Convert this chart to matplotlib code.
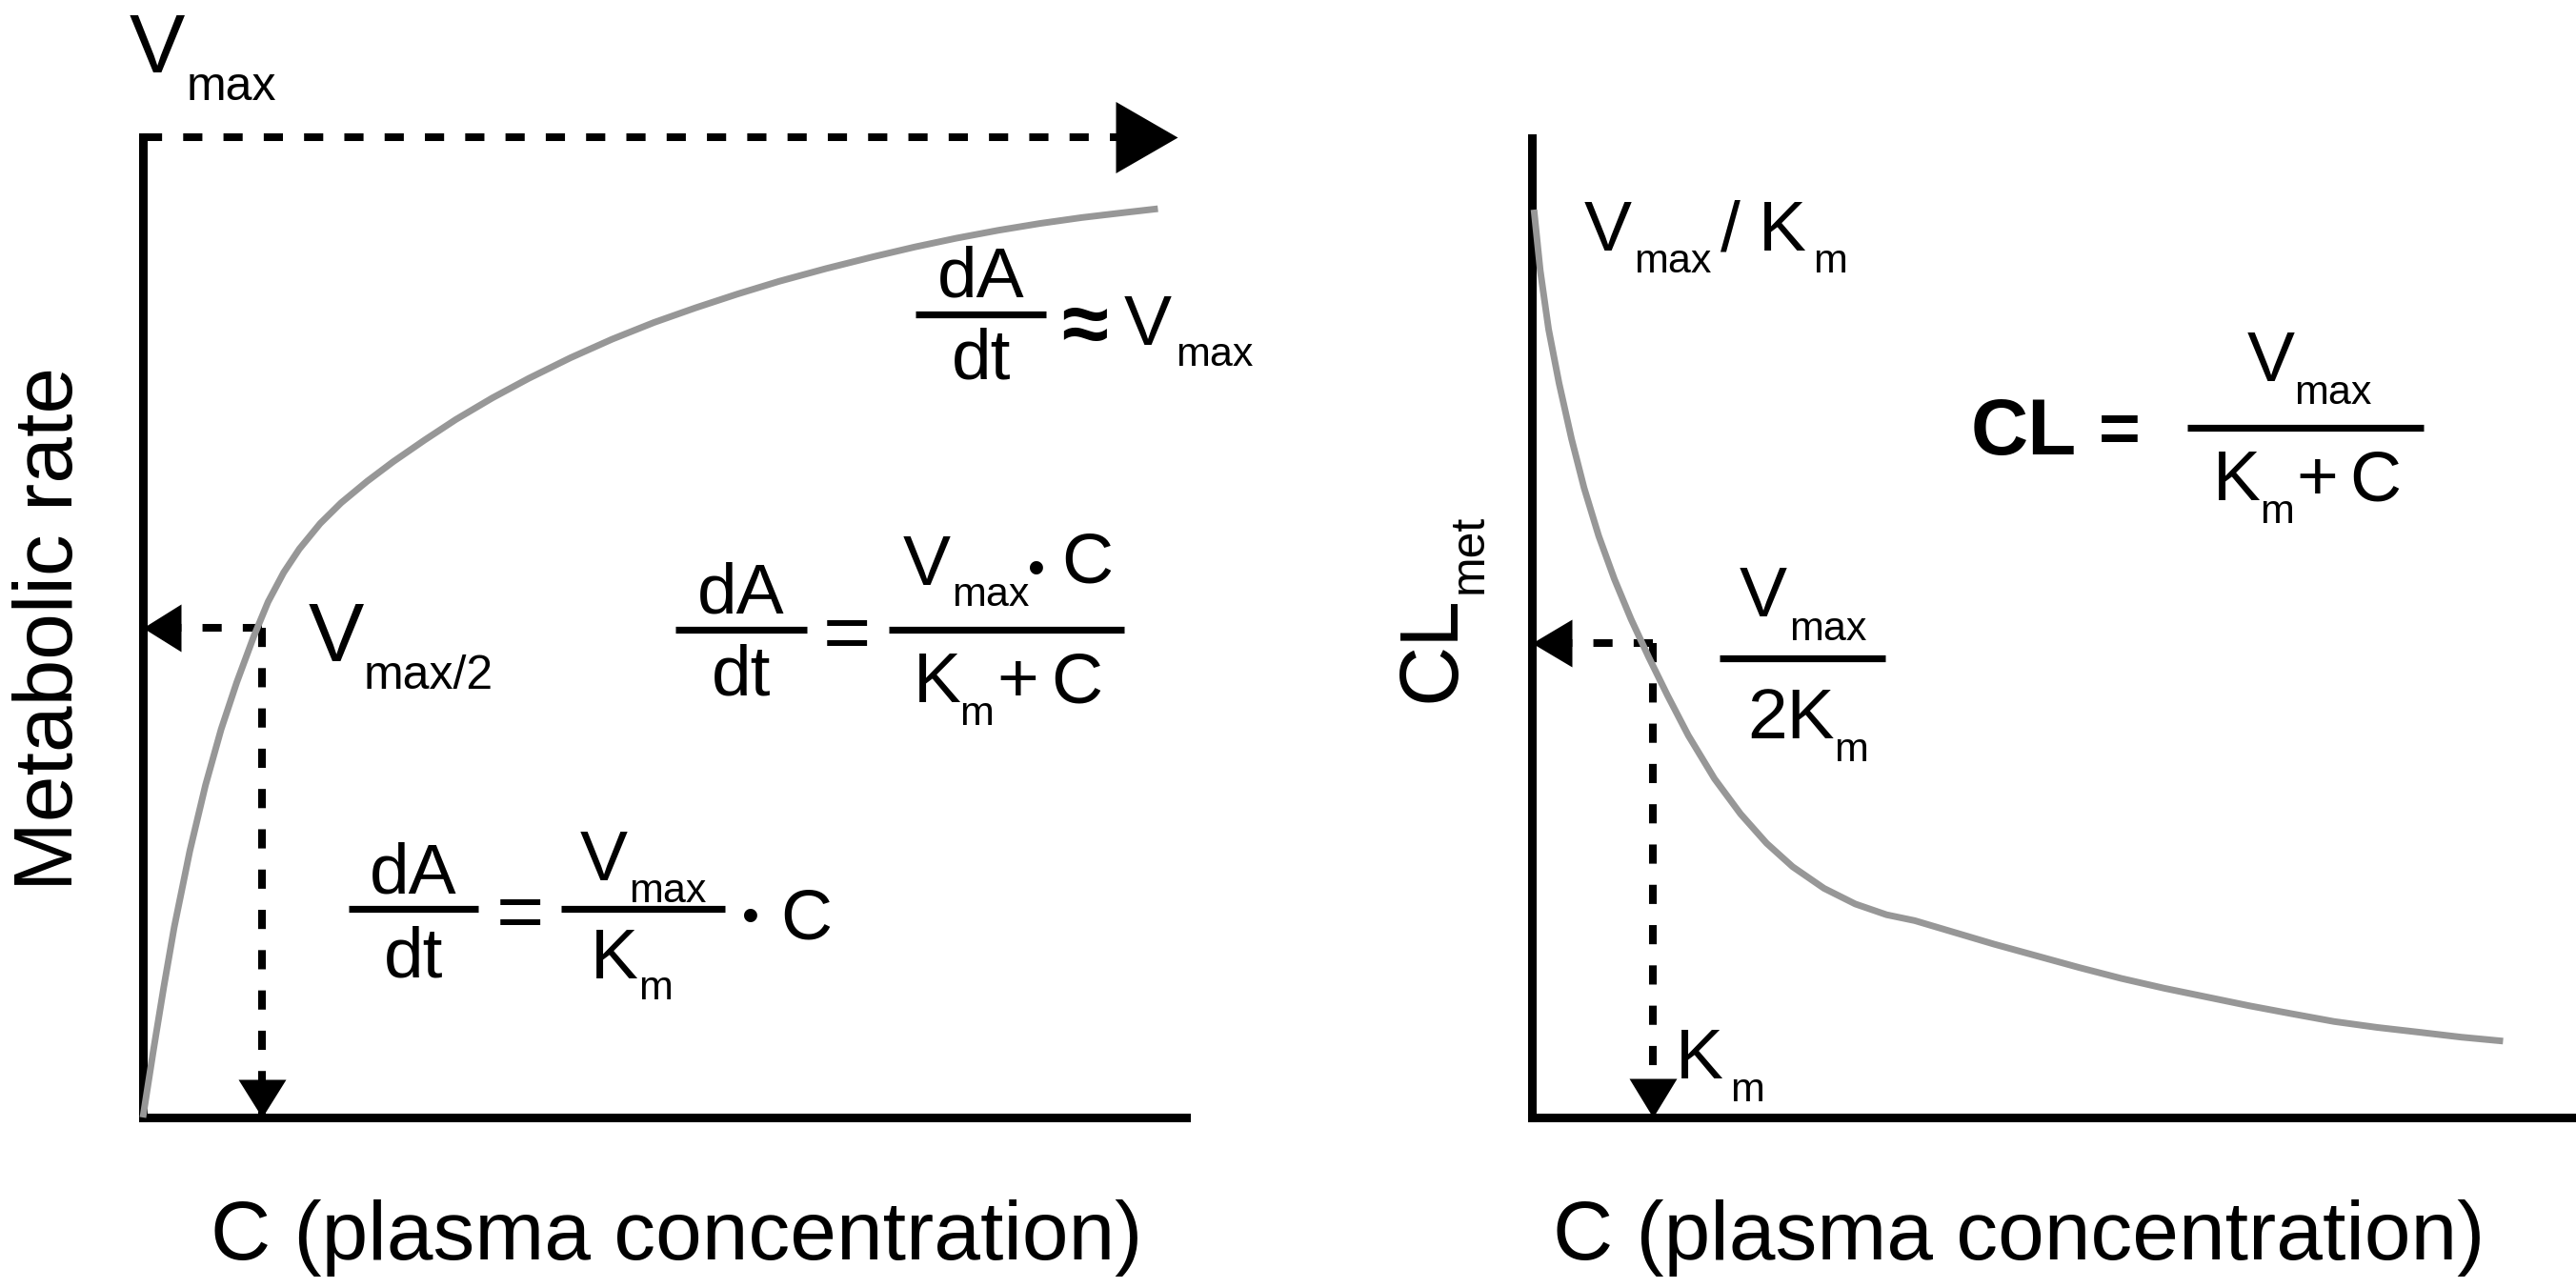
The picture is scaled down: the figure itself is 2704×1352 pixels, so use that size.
import matplotlib
matplotlib.use("Agg")
import matplotlib.pyplot as plt
from matplotlib.lines import Line2D

# ---------------- data ----------------
# Left panel: metabolic rate (% of Vmax) versus plasma concentration (% of axis length)
conc_left = [0, 1, 2, 3, 4.5, 6, 7.5, 9, 10.6, 12, 13.5, 15, 17, 19, 21.5, 24, 27, 30, 33.5,
             37, 41, 45, 49, 53, 57, 61, 65.5, 70, 74, 78, 82, 86, 90, 94, 97.3]
rate_left = [0, 6.8, 13.3, 19.4, 27.2, 33.9, 39.6, 44.4, 49.0, 52.6, 55.6, 58.0, 60.6, 62.7,
             64.9, 66.9, 69.1, 71.2, 73.4, 75.4, 77.5, 79.4, 81.1, 82.6, 84.0, 85.3, 86.6,
             87.8, 88.8, 89.7, 90.5, 91.2, 91.8, 92.3, 92.7]
vmax_left = 100          # Vmax level (top of the axis)
half_vmax_left = 50      # Vmax/2
km_left = 11.4           # Km on the concentration axis
vmax_arrow_end = 99.2    # where the Vmax arrow ends

# Right panel: metabolic clearance versus plasma concentration
conc_right = [0.2, 0.8, 1.6, 2.6, 3.8, 5.0, 6.4, 7.9, 9.5, 11.2, 13.0, 15.0, 17.5, 20.0, 22.5,
              25.0, 28.0, 31.0, 34.0, 36.7, 40.5, 44.3, 48.4, 52.5, 56.5, 60.6, 64.7, 68.8,
              72.8, 76.9, 81.0, 85.1, 89.1, 93.1]
cl_right = [92.7, 86.5, 80.5, 75.0, 69.3, 64.3, 59.4, 55.0, 50.9, 47.0, 43.1, 39.0, 34.6, 31.0,
            28.0, 25.6, 23.4, 21.8, 20.7, 20.1, 18.9, 17.7, 16.5, 15.3, 14.2, 13.2, 12.3,
            11.4, 10.6, 9.8, 9.2, 8.7, 8.2, 7.8]
km_right = 11.6
cl_at_km = 48.4          # Vmax / 2Km level

xlabel_text = "C (plasma concentration)"
ylabel_left = "Metabolic rate"

# ---------------- figure ----------------
W, H, DPI = 2704, 1352, 100
plt.rcParams['font.family'] = ['Liberation Sans', 'DejaVu Sans']
fig = plt.figure(figsize=(W / DPI, H / DPI), dpi=DPI)
fig.patch.set_facecolor('white')

PX2PT = 72.0 / DPI
BIG, SUBB, EQ, SUB = 63, 36, 54, 31
GREY = '#979797'


def fx(px):
    return px / W


def fy(py):
    return 1 - py / H


def make_ax(x0, x1, ytop, ybot):
    ax = fig.add_axes([fx(x0), fy(ybot), (x1 - x0) / W, (ybot - ytop) / H])
    ax.set_xlim(0, 100)
    ax.set_ylim(0, 100)
    for s in ('top', 'right'):
        ax.spines[s].set_visible(False)
    for s in ('left', 'bottom'):
        ax.spines[s].set_linewidth(6.5)
        ax.spines[s].set_color('black')
    ax.set_xticks([])
    ax.set_yticks([])
    ax.patch.set_alpha(0)
    return ax


DASH = dict(color='black', lw=5.8, ls=(0, (2.5, 2.75)), clip_on=False,
            dash_capstyle='butt', zorder=2)


def head(ax, x, y, direction, length_px, width_px):
    hw = width_px / length_px / 2.0
    shapes = {'right': [(0, 0), (-1, hw), (-1, -hw)],
              'left': [(0, 0), (1, hw), (1, -hw)],
              'down': [(0, 0), (hw, 1), (-hw, 1)]}
    m = max(1.0, hw)
    ms = 2 * length_px * PX2PT * m
    ax.plot([x], [y], marker=shapes[direction], ms=ms, color='black', mew=0,
            ls='none', clip_on=False, zorder=5)


def T(s, px, py, size, ha='left', weight='normal', rot=0):
    fig.text(fx(px), fy(py), s, fontsize=size, ha=ha, va='baseline',
             fontweight=weight, rotation=rot, rotation_mode='anchor', color='black')


def bar(x0, x1, py):
    fig.add_artist(Line2D([fx(x0), fx(x1)], [fy(py), fy(py)], lw=5.2, color='black',
                          solid_capstyle='butt'))


def bullet(px, py, size=37):
    T("\u2022", px, py + 0.375 * size / PX2PT, size, ha='center')


# ---------------- left panel ----------------
axL = make_ax(150, 1245, 144, 1173)
axL.plot(conc_left, rate_left, color=GREY, lw=5.0, clip_on=False, zorder=3,
         solid_capstyle='butt', solid_joinstyle='round')
# Vmax arrow
axL.plot([0, vmax_arrow_end - 3], [vmax_left, vmax_left], **DASH)
head(axL, vmax_arrow_end, vmax_left, 'right', 65, 75)
# Km / Vmax/2 guides
axL.plot([km_left, 0], [half_vmax_left, half_vmax_left], **DASH)
axL.plot([km_left, km_left], [half_vmax_left, 0], **DASH)
head(axL, 0, half_vmax_left, 'left', 40, 50)
head(axL, km_left, 0, 'down', 40, 50)

# ---------------- right panel ----------------
axR = make_ax(1608, 2703, 145, 1173)
axR.plot(conc_right, cl_right, color=GREY, lw=5.0, clip_on=False, zorder=3,
         solid_capstyle='butt', solid_joinstyle='round')
axR.plot([km_right, 0], [cl_at_km, cl_at_km], **DASH)
axR.plot([km_right, km_right], [cl_at_km, 0], **DASH)
head(axR, 0, cl_at_km, 'left', 42, 50)
head(axR, km_right, 0, 'down', 41, 50)

# ---------------- texts: left panel ----------------
T("V", 136, 76, BIG)
T("max", 196, 105, SUBB)
T(ylabel_left, 76, 660, BIG, ha='center', rot=90)
T("V", 324, 694, BIG)
T("max/2", 382, 723, SUBB)

# dA/dt ~ Vmax
bar(961, 1098, 330)
T("dA", 1030, 312, EQ, ha='center')
T("dt", 1030, 397, EQ, ha='center')
T("\u2248", 1139, 370, 64, ha='center', weight='bold')
T("V", 1180, 362, EQ)
T("max", 1234, 384, SUB)

# dA/dt = Vmax*C/(Km+C)
bar(709, 847, 661)
T("dA", 778, 643, EQ, ha='center')
T("dt", 778, 730, EQ, ha='center')
T("=", 889, 692, 62, ha='center')
bar(933, 1180, 661)
T("V", 948, 614, EQ)
T("max", 999, 636, SUB)
bullet(1088, 594)
T("C", 1114, 612, EQ)
T("K", 959, 737, EQ)
T("m", 1007, 761, SUB)
T("+", 1068, 737, EQ, ha='center')
T("C", 1103, 737, EQ)

# dA/dt = Vmax/Km * C
bar(366, 502, 954)
T("dA", 434, 937, EQ, ha='center')
T("dt", 434, 1025, EQ, ha='center')
T("=", 546, 985, 62, ha='center')
bar(589, 761, 954)
T("V", 609, 924, EQ)
T("max", 660, 947, SUB)
T("K", 620, 1027, EQ)
T("m", 670, 1049, SUB)
bullet(788, 959)
T("C", 819, 985, EQ)

T(xlabel_text, 710, 1322, BIG, ha='center')

# ---------------- texts: right panel ----------------
T("V", 1663, 263, EQ)
T("max", 1715, 286, SUB)
T("/", 1806, 263, EQ)
T("K", 1846, 263, EQ)
T("m", 1903, 286, SUB)

T("CL", 2069, 477, 60, weight='bold')
T("=", 2225, 475, 54, ha='center', weight='bold')
bar(2296, 2544, 449)
T("V", 2359, 400, EQ)
T("max", 2408, 424, SUB)
T("K", 2323, 525, EQ)
T("m", 2372, 549, SUB)
T("+", 2432, 525, EQ, ha='center')
T("C", 2466, 525, EQ)

T("V", 1826, 647, EQ)
T("max", 1878, 672, SUB)
bar(1805, 1979, 691)
T("2K", 1834, 775, EQ)
T("m", 1925, 799, SUB)

T("K", 1759, 1132, EQ)
T("m", 1816, 1156, SUB)

T("CL", 1527, 737, BIG, rot=90)
T("met", 1556, 623, SUBB, rot=90)

T(xlabel_text, 2119, 1322, BIG, ha='center')

fig.savefig("out.png", dpi=DPI, facecolor='white')
